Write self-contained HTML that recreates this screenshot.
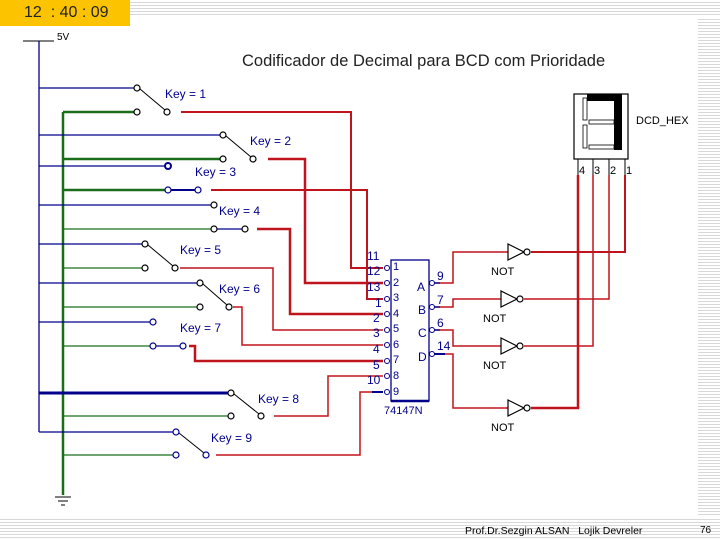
<!DOCTYPE html>
<html><head><meta charset="utf-8"><style>
body{margin:0;width:720px;height:540px;overflow:hidden;background:#fff;position:relative;font-family:"Liberation Sans",sans-serif}
.st{position:absolute;background:repeating-linear-gradient(to bottom,#fff 0,#fff 2px,#d8d8d8 2px,#d8d8d8 3px)}
</style></head><body>
<div class="st" style="left:130px;top:0;width:590px;height:17px"></div>
<div class="st" style="left:698px;top:17px;width:22px;height:500px"></div>
<div class="st" style="left:0;top:517px;width:720px;height:23px"></div>
<div style="position:absolute;left:0;top:0;width:130px;height:26px;background:#fcc400;font-size:16px;line-height:26px;color:#222"><span style="margin-left:24px">12 &nbsp;: 40 : 09</span></div>
<svg width="720" height="540" style="position:absolute;left:0;top:0" font-family="Liberation Sans, sans-serif">
<g fill="none">
<line x1="23" y1="41" x2="54" y2="41" stroke="#000"/>
<line x1="39" y1="41" x2="39" y2="432" stroke="#00008b" stroke-width="1.3"/>
<line x1="63" y1="112" x2="63" y2="495" stroke="#1a6e1a" stroke-width="2.5"/>
<line x1="55" y1="497" x2="71" y2="497" stroke="#000"/><line x1="58" y1="501" x2="68" y2="501" stroke="#000"/><line x1="61" y1="505" x2="65" y2="505" stroke="#000"/>
<g stroke="#00008b" stroke-width="1.3">
<line x1="39" y1="88" x2="134" y2="88"/><line x1="39" y1="135" x2="220" y2="135"/><line x1="39" y1="166" x2="165" y2="166"/>
<line x1="39" y1="205" x2="211" y2="205"/><line x1="39" y1="244" x2="142" y2="244"/><line x1="39" y1="283" x2="197" y2="283"/>
<line x1="39" y1="322" x2="150" y2="322"/><line x1="39" y1="393" x2="228" y2="393" stroke-width="3"/><line x1="39" y1="432" x2="173" y2="432"/>
<line x1="156" y1="346" x2="180" y2="346"/><line x1="171" y1="190" x2="195" y2="190" stroke-width="2"/><line x1="217" y1="229" x2="242" y2="229"/>
</g>
<g stroke="#1a6e1a" stroke-width="1.3">
<line x1="63" y1="112" x2="134" y2="112" stroke-width="2.5"/><line x1="63" y1="159" x2="220" y2="159" stroke-width="2.5"/><line x1="63" y1="190" x2="165" y2="190" stroke-width="2.5"/>
<line x1="63" y1="229" x2="211" y2="229"/><line x1="63" y1="268" x2="142" y2="268"/><line x1="63" y1="307" x2="197" y2="307"/>
<line x1="63" y1="346" x2="150" y2="346"/><line x1="63" y1="416" x2="228" y2="416"/><line x1="63" y1="455" x2="173" y2="455"/>
</g>
<g stroke="#000" stroke-width="1">
<line x1="140" y1="89" x2="165" y2="110"/><line x1="226" y1="136" x2="251" y2="157"/><line x1="148" y1="245" x2="173" y2="266"/>
<line x1="203" y1="284" x2="227" y2="305"/><line x1="234" y1="394" x2="259" y2="414"/><line x1="179" y1="433" x2="204" y2="453"/>
</g>
<g stroke="#000" stroke-width="1.2" fill="#fff">
<circle cx="137" cy="88" r="3"/><circle cx="137" cy="112" r="3"/><circle cx="167" cy="112" r="3"/>
<circle cx="223" cy="135" r="3"/><circle cx="223" cy="159" r="3"/><circle cx="253" cy="159" r="3"/>
<circle cx="168" cy="166" r="3" stroke="#00008b" stroke-width="2"/><circle cx="168" cy="190" r="3" stroke="#00008b"/><circle cx="198" cy="190" r="3" stroke="#00008b"/>
<circle cx="214" cy="205" r="3"/><circle cx="214" cy="229" r="3"/><circle cx="245" cy="229" r="3"/>
<circle cx="145" cy="244" r="3"/><circle cx="145" cy="268" r="3"/><circle cx="175" cy="268" r="3"/>
<circle cx="200" cy="283" r="3"/><circle cx="200" cy="307" r="3"/><circle cx="229" cy="307" r="3"/>
<circle cx="153" cy="322" r="3" stroke="#00008b"/><circle cx="153" cy="346" r="3" stroke="#00008b"/><circle cx="183" cy="346" r="3" stroke="#00008b"/>
<circle cx="231" cy="393" r="3"/><circle cx="231" cy="416" r="3"/><circle cx="261" cy="416" r="3"/>
<circle cx="176" cy="432" r="3" stroke="#00008b"/><circle cx="176" cy="455" r="3" stroke="#00008b"/><circle cx="206" cy="455" r="3" stroke="#00008b"/>
</g>
<g stroke="#c0141c" stroke-width="1.5">
<polyline points="181,112 351,112 351,268 383,268" stroke-width="2"/>
<polyline points="268,159 305,159 305,283 383,283" stroke-width="2.5"/>
<polyline points="211,190 367,190 367,299 383,299" stroke-width="2"/>
<polyline points="257,229 290,229 290,314 383,314" stroke-width="2.5"/>
<polyline points="180,268 273,268 273,330 383,330"/>
<polyline points="233,307 242,307 242,345 383,345"/>
<polyline points="189,346 195,346 195,361 383,361" stroke-width="2.5"/>
<polyline points="274,416 328,416 328,376 383,376"/>
<polyline points="216,455 360,455 360,392 372,392" stroke-width="1.5"/>
<polyline points="433,283 453,283 453,252 508,252"/>
<polyline points="433,307 453,307 453,299 501,299"/>
<polyline points="433,330 453,330 453,346 501,346"/>
<polyline points="445,354 453,354 453,408 508,408"/>
<polyline points="531,252 625,252 625,175" stroke-width="2"/>
<polyline points="524,299 609,299 609,175"/>
<polyline points="524,346 593,346 593,175"/>
<polyline points="531,408 578,408 578,175" stroke-width="2.5"/>
</g>
<g stroke="#00008b" stroke-width="1.3">
<line x1="372" y1="392" x2="383" y2="392" stroke-width="2"/>
<line x1="429" y1="283" x2="440" y2="283"/><line x1="429" y1="307" x2="440" y2="307"/><line x1="429" y1="330" x2="440" y2="330"/><line x1="429" y1="354" x2="445" y2="354" stroke-width="2"/>
</g>
<rect x="391" y="260" width="38" height="141" stroke="#00008b" stroke-width="1.3"/>
<line x1="391" y1="401" x2="429" y2="401" stroke="#00008b" stroke-width="2.5"/>
<g stroke="#00008b" fill="#fff" stroke-width="1">
<circle cx="387" cy="268" r="2.5"/><circle cx="387" cy="283" r="2.5"/><circle cx="387" cy="299" r="2.5"/><circle cx="387" cy="314" r="2.5"/><circle cx="387" cy="330" r="2.5"/><circle cx="387" cy="345" r="2.5"/><circle cx="387" cy="361" r="2.5"/><circle cx="387" cy="376" r="2.5"/><circle cx="387" cy="392" r="2.5"/>
<circle cx="432" cy="283" r="2.5"/><circle cx="432" cy="307" r="2.5"/><circle cx="432" cy="330" r="2.5"/><circle cx="432" cy="354" r="2.5"/>
</g>
<g stroke="#000" stroke-width="1.2" fill="#fff">
<polygon points="508,244 508,260 524,252"/><circle cx="527" cy="252" r="3"/>
<polygon points="501,291 501,307 517,299"/><circle cx="520" cy="299" r="3"/>
<polygon points="501,338 501,354 517,346"/><circle cx="520" cy="346" r="3"/>
<polygon points="508,400 508,416 524,408"/><circle cx="527" cy="408" r="3"/>
</g>
<rect x="574" y="94" width="54" height="65" stroke="#000" stroke-width="1.2"/>
<rect x="587" y="94" width="35" height="7" fill="#000"/><rect x="614" y="94" width="8" height="56" fill="#000"/>
<rect x="583" y="98" width="4" height="22" stroke="#000" stroke-width="0.8"/><rect x="583" y="125" width="4" height="23" stroke="#000" stroke-width="0.8"/>
<rect x="589" y="120" width="25" height="4" stroke="#000" stroke-width="0.8"/><rect x="589" y="145" width="25" height="4" stroke="#000" stroke-width="0.8"/>
<g stroke="#000"><line x1="578" y1="159" x2="578" y2="175"/><line x1="593" y1="159" x2="593" y2="175"/><line x1="609" y1="159" x2="609" y2="175"/><line x1="625" y1="159" x2="625" y2="175"/></g>
</g>
<g font-size="12" fill="#000">
<text x="57" y="40" font-size="10">5V</text>
<text x="242" y="66" font-size="16.5" fill="#222">Codificador de Decimal para BCD com Prioridade</text>
<text x="636" y="124" font-size="11">DCD_HEX</text>
<text x="579" y="174" font-size="11">4</text><text x="594" y="174" font-size="11">3</text><text x="610" y="174" font-size="11">2</text><text x="626" y="174" font-size="11">1</text>
<g fill="#00008b">
<text x="165" y="98">Key = 1</text><text x="250" y="145">Key = 2</text><text x="195" y="176">Key = 3</text><text x="219" y="215">Key = 4</text>
<text x="180" y="254">Key = 5</text><text x="219" y="293">Key = 6</text><text x="180" y="332">Key = 7</text><text x="258" y="403">Key = 8</text><text x="211" y="442">Key = 9</text>
<text x="367" y="260">11</text><text x="367" y="275">12</text><text x="367" y="291">13</text>
<text x="375" y="307">1</text><text x="373" y="322">2</text><text x="373" y="337">3</text><text x="373" y="353">4</text><text x="373" y="369">5</text><text x="367" y="384">10</text>
<g font-size="11"><text x="393" y="270">1</text><text x="393" y="286">2</text><text x="393" y="301">3</text><text x="393" y="317">4</text><text x="393" y="332">5</text><text x="393" y="348">6</text><text x="393" y="363">7</text><text x="393" y="379">8</text><text x="393" y="395">9</text></g>
<text x="417" y="291">A</text><text x="418" y="314">B</text><text x="418" y="337">C</text><text x="418" y="361">D</text>
<text x="437" y="280">9</text><text x="437" y="304">7</text><text x="437" y="327">6</text><text x="437" y="350">14</text>
<text x="384" y="414" font-size="11">74147N</text>
</g>
<g font-size="11"><text x="491" y="275">NOT</text><text x="483" y="322">NOT</text><text x="483" y="369">NOT</text><text x="491" y="431">NOT</text></g>
<text x="465" y="534" font-size="10.5">Prof.Dr.Sezgin ALSAN &#160; Lojik Devreler</text>
<text x="700" y="533" font-size="10">76</text>
</g>
</svg>
</body></html>
